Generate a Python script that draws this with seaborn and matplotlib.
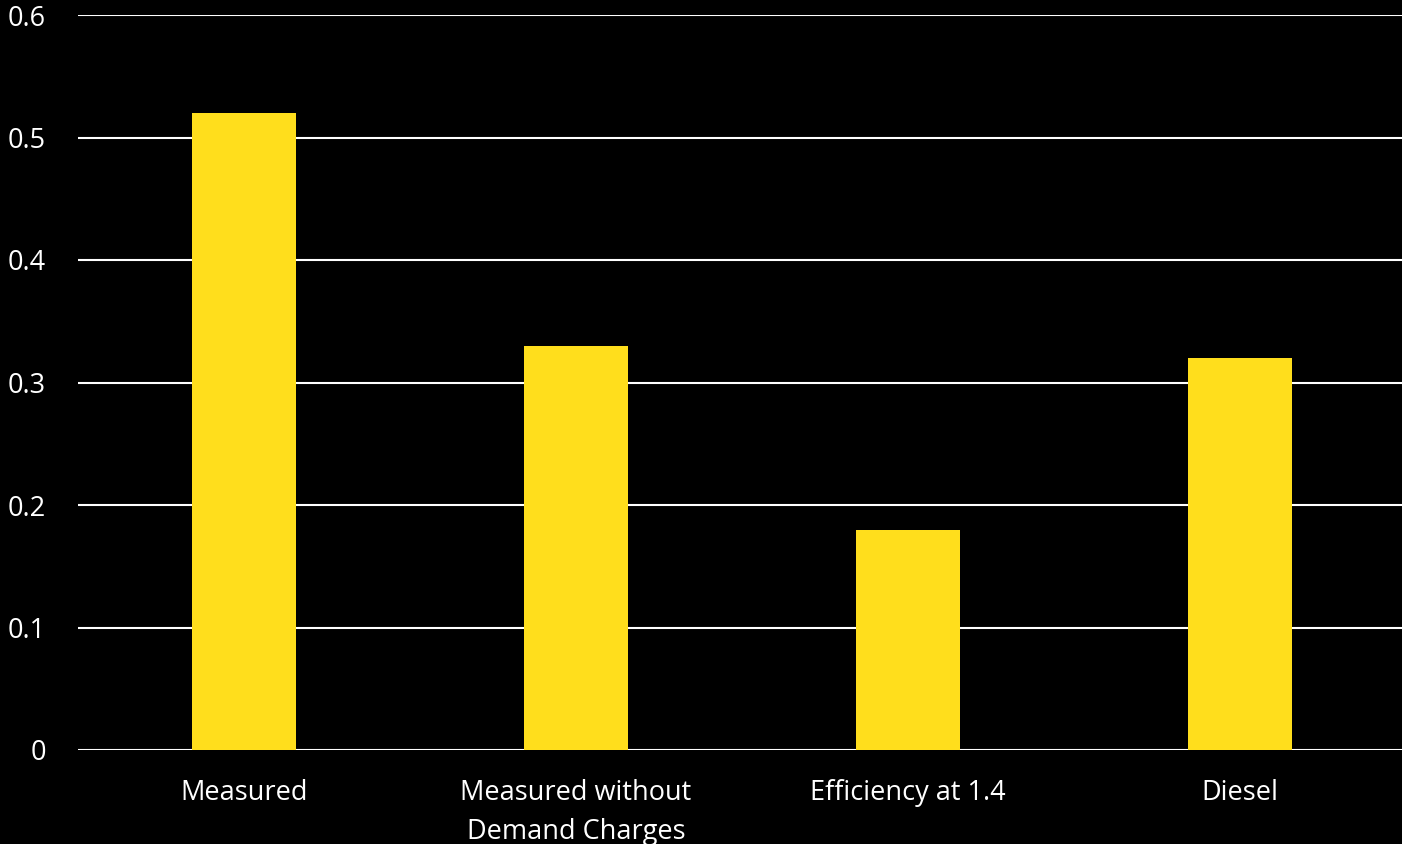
import matplotlib
matplotlib.use("Agg")
import matplotlib.pyplot as plt
import seaborn as sns
import pandas as pd

categories = ["Measured", "Measured without\nDemand Charges", "Efficiency at 1.4", "Diesel"]
values = [0.52, 0.33, 0.18, 0.32]
yticks = [0, 0.1, 0.2, 0.3, 0.4, 0.5, 0.6]
ytick_labels = ["0", "0.1", "0.2", "0.3", "0.4", "0.5", "0.6"]

sns.set_theme(style="dark")
plt.rcParams['font.family'] = ['Open Sans', 'DejaVu Sans']

df = pd.DataFrame({"cat": categories, "val": values})

fig = plt.figure(figsize=(14.02, 8.44), dpi=100, facecolor="black")
ax = fig.add_axes([78/1402, 94/844, 1328/1402, 735/844])
ax.set_facecolor("black")

sns.barplot(data=df, x="cat", y="val", color="#FFDE1C", saturation=1,
            width=0.313, ax=ax, zorder=3, linewidth=0, edgecolor="none")

ax.set_ylim(0, 0.6)
ax.set_xlim(-0.5, 3.5)
ax.set_yticks(yticks)
ax.set_yticklabels(ytick_labels)
ax.grid(axis="y", color="white", linewidth=1.5, zorder=0)
ax.grid(axis="x", visible=False)
ax.set_axisbelow(True)
for s in ax.spines.values():
    s.set_visible(False)
ax.set_xlabel("")
ax.set_ylabel("")
ax.tick_params(axis="y", colors="white", labelsize=19.5, length=0, pad=23)
ax.tick_params(axis="x", colors="white", labelsize=19.5, length=0, pad=21)
for lab in ax.get_yticklabels():
    lab.set_horizontalalignment("right")
for lab in ax.get_xticklabels():
    lab.set_linespacing(1.5)

fig.savefig("out.png", dpi=100, facecolor="black")
